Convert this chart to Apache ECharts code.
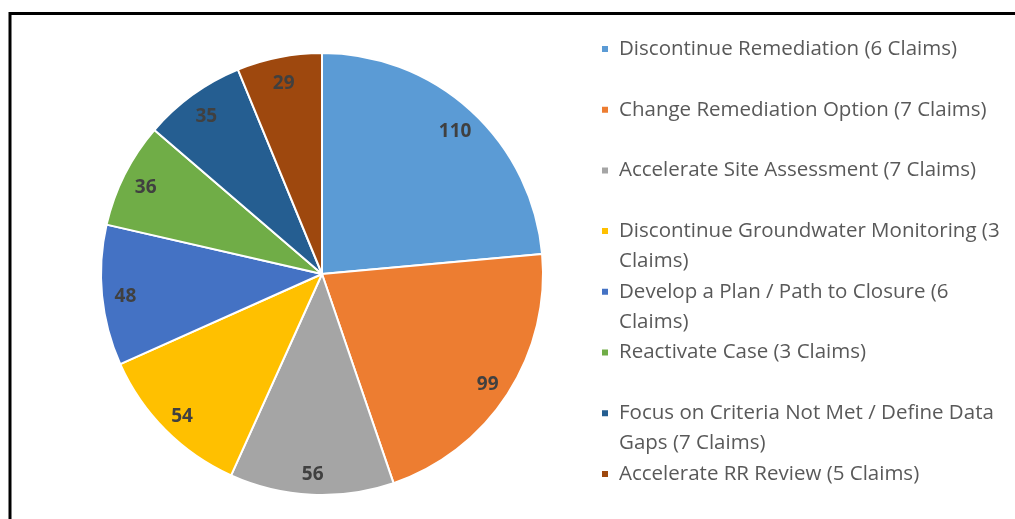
<!DOCTYPE html>
<html>
<head>
<meta charset="utf-8">
<script src="https://cdn.jsdelivr.net/npm/echarts@6/dist/echarts.min.js"></script>
<style>
html, body { margin: 0; padding: 0; background: #fff; }
#main { width: 1015px; height: 519px; }
</style>
</head>
<body>
<div id="main"></div>
<script>
var categories = [
    'Discontinue Remediation (6 Claims)',
    'Change Remediation Option (7 Claims)',
    'Accelerate Site Assessment (7 Claims)',
    'Discontinue Groundwater Monitoring (3 Claims)',
    'Develop a Plan / Path to Closure (6 Claims)',
    'Reactivate Case (3 Claims)',
    'Focus on Criteria Not Met / Define Data Gaps (7 Claims)',
    'Accelerate RR Review (5 Claims)'
];
var values = [110, 99, 56, 54, 48, 36, 35, 29];
var colors = ['#5B9BD5', '#ED7D31', '#A5A5A5', '#FFC000', '#4472C4', '#70AD47', '#255E91', '#9E480E'];

// legend text wraps like the office legend does
var legendFontSize = 20.5;
var legendFontFamily = '"Open Sans", sans-serif';
var legendMaxWidth = 390;
var ctx = document.createElement('canvas').getContext('2d');
ctx.font = legendFontSize + 'px ' + legendFontFamily;
function wrapName(name) {
    var words = name.split(' ');
    var lines = [];
    var cur = '';
    words.forEach(function (w) {
        var t = cur ? cur + ' ' + w : w;
        if (cur && ctx.measureText(t).width > legendMaxWidth) {
            lines.push(cur);
            cur = w;
        } else {
            cur = t;
        }
    });
    lines.push(cur);
    return lines;
}
// every entry is 3 lines tall, first text line sits next to the icon
function legendText(name) {
    var lines = wrapName(name);
    if (lines.length < 2) lines.push('');
    return '\n' + lines.join('\n');
}

var pieData = categories.map(function (name, i) {
    return { name: name, value: values[i], itemStyle: { color: colors[i] } };
});
var labelData = categories.map(function (name, i) {
    return { name: name, value: values[i] };
});

var chart = echarts.init(document.getElementById('main'));
var option = {
    animation: false,
    backgroundColor: '#fff',
    graphic: [{
        type: 'rect',
        shape: { x: 10, y: 13.5, width: 1200, height: 1000 },
        style: { fill: 'none', stroke: '#000', lineWidth: 3 },
        silent: true
    }],
    legend: {
        orient: 'vertical',
        left: 600,
        top: 4,
        padding: 0,
        itemGap: -29.3,
        itemWidth: 8,
        itemHeight: 8,
        icon: 'rect',
        selectedMode: false,
        data: categories,
        formatter: legendText,
        textStyle: {
            color: '#595959',
            fontSize: legendFontSize,
            fontFamily: legendFontFamily,
            lineHeight: 30,
            padding: [0, 0, 0, 5]
        }
    },
    series: [
        {
            name: 'claims',
            type: 'pie',
            center: [322, 274],
            radius: 221,
            startAngle: 90,
            clockwise: true,
            label: { show: false },
            labelLine: { show: false },
            itemStyle: { borderColor: '#fff', borderWidth: 2 },
            emphasis: { disabled: true },
            data: pieData
        },
        {
            name: 'labels',
            type: 'pie',
            center: [322, 274],
            radius: [168, 221],
            startAngle: 90,
            clockwise: true,
            silent: true,
            legendHoverLink: false,
            itemStyle: { color: 'rgba(0,0,0,0)', borderWidth: 0 },
            label: {
                show: true,
                position: 'inside',
                formatter: '{c}',
                color: '#404040',
                fontSize: 19,
                fontWeight: 'bold',
                fontFamily: '"Open Sans", sans-serif',
                offset: [0, 3]
            },
            labelLine: { show: false },
            emphasis: { disabled: true },
            data: labelData
        }
    ]
};
chart.setOption(option);
</script>
</body>
</html>
